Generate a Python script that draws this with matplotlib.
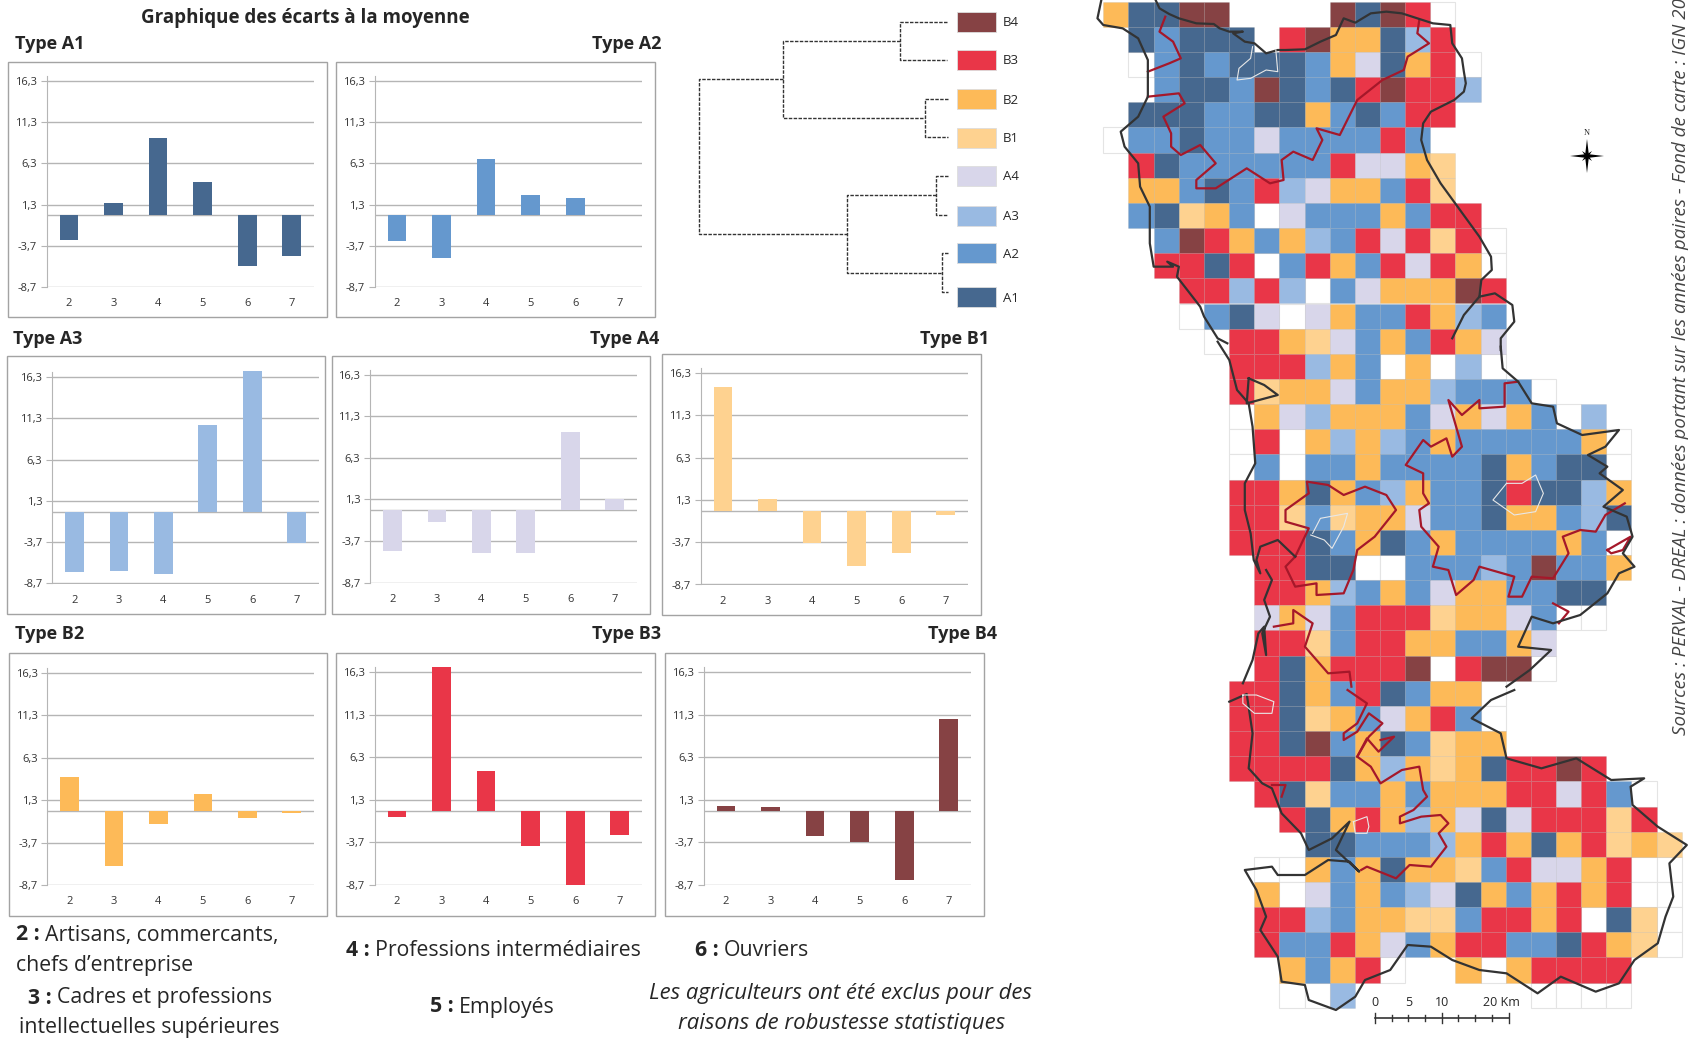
import matplotlib
matplotlib.use('Agg')
import matplotlib.pyplot as plt
from matplotlib.patches import Rectangle

plt.rcParams['font.family'] = ['Open Sans', 'DejaVu Sans']

W, H = 1688, 1038

# categories and bar values of each type
categories = ['2', '3', '4', '5', '6', '7']
y_ticks = [-8.7, -3.7, 1.3, 6.3, 11.3, 16.3]
y_labels = ['-8,7', '-3,7', '1,3', '6,3', '11,3', '16,3']
a1_values = [-3.0, 1.5, 9.4, 4.1, -6.1, -4.9]
a2_values = [-3.1, -5.2, 6.8, 2.5, 2.1, 0.05]
a3_values = [-7.3, -7.2, -7.5, 10.5, 17.0, -3.8]
a4_values = [-4.9, -1.4, -5.1, -5.1, 9.4, 1.3]
b1_values = [14.6, 1.4, -3.8, -6.5, -5.0, -0.5]
b2_values = [4.05, -6.5, -1.5, 2.0, -0.8, -0.2]
b3_values = [-0.7, 16.9, 4.7, -4.1, -8.7, -2.8]
b4_values = [0.6, 0.5, -3.0, -3.7, -8.1, 10.8]

colors = {'A1': '#46688f', 'A2': '#6598ce', 'A3': '#99bae2', 'A4': '#d8d6ea',
          'B1': '#fed290', 'B2': '#fdba58', 'B3': '#e93648', 'B4': '#864244'}

# map cells, one string per row: a-d = A1-A4, e-h = B1-B4, w = no type, . = outside
map_rows = [
    'faahh....hahgw',
    '.abaaa.ghffacg',
    '.wbabaaabfdafgw',
    '..baabhabaghggc',
    '.aaabbaafbabgg',
    'wbbabbdbbbbgb',
    '.gabbbbbbgddfe',
    '.ffbabgcdffbge',
    '.baefbwdbbbfbgg',
    '..bhgfbfcbgdgegw',
    '..ggagwbgfbgdgfw',
    '...ggcgcwbdfffhg',
    '...wbadwdfbbgfcb',
    '....wggfedbfbgfd',
    '.....gggcfbwfwcw',
    '.....geffdbffcbbbw',
    '.....wfdcfffbdfdfbwc',
    '.....wgwfcfcbfbbbbbfw',
    '.....wbwbbfbbbbafbaaw',
    '.....ggfafbcfbbagaacf',
    '.....ggebeffdbbaffbca',
    '.....gggabfabfbbbbfbw',
    '......ggaawwbbbcbhbbf',
    '......ggfcbfbdffbbaa',
    '......dfdbgggeffdbww',
    '......ggebggffbbfd',
    '......gafggghwghhw',
    '.....ggafbgabffw',
    '.....ggaefbdfgbw',
    '.....ggahbfabeff',
    '.....ggggafcfefagghg',
    '......gaebbfbfffggdgbw',
    '.......gafgfcfdadgggeg',
    '........aabbbcfgfafgefe',
    '......wwfbfaffebgddfgww',
    '......fwdbfbcdafbfgfgww',
    '......ggcbffeebggfgwaew',
    '......gbbgfdbfggbbagfew',
    '.......fbfgw..fwfgggg',
    '.......wwc.......wwww',
]
cell_types = {'a': 'A1', 'b': 'A2', 'c': 'A3', 'd': 'A4',
              'e': 'B1', 'f': 'B2', 'g': 'B3', 'h': 'B4'}

coast_top = [(55, 0), (45, 55), (60, 75), (110, 85), (150, 115), (175, 180), (175, 290), (150, 350),
             (105, 395), (115, 440), (150, 490), (155, 560), (180, 620), (180, 730), (190, 800),
             (240, 800), (225, 785), (255, 800), (250, 830), (310, 920), (320, 950), (355, 1015), (380, 1030)]
coast_north = [(195, 0), (205, 25), (230, 42), (255, 55), (300, 70), (345, 72), (360, 85), (385, 95),
               (420, 95), (395, 100), (425, 125), (450, 130), (480, 160), (510, 150), (530, 150),
               (580, 148), (620, 125), (660, 105), (680, 55), (710, 68), (750, 40), (790, 35), (830, 40),
               (870, 55), (910, 70), (955, 75), (960, 130), (985, 175), (990, 215), (995, 250), (990, 275),
               (965, 300), (905, 335), (885, 370), (880, 420), (895, 480), (930, 550), (980, 630),
               (1030, 710), (1060, 770), (1062, 810), (1035, 840), (1030, 890), (990, 945), (960, 1015)]
coast_east_top = [(1030, 890), (1070, 880), (1115, 915), (1120, 965), (1085, 1015), (1085, 1050)]
coast_mid_west = [(355, 5), (385, 60), (405, 150), (435, 190), (445, 260), (452, 370), (425, 430), (425, 510),
                  (440, 580), (448, 660), (465, 700), (455, 660), (465, 620), (510, 600), (555, 650)]
coast_mid_branch = [(435, 115), (430, 190), (510, 165), (475, 135), (435, 115)]
coast_mid_west2 = [(480, 690), (495, 720), (475, 780), (490, 830), (470, 880), (480, 945), (475, 860),
                   (460, 880), (445, 960), (420, 1030)]
coast_mid_east = [(1100, 1040), (1160, 990), (1215, 930), (1130, 920), (1165, 830), (1220, 850), (1290, 825),
                  (1360, 760), (1390, 700), (1430, 680), (1400, 640), (1425, 590), (1410, 530), (1350, 500),
                  (1400, 450), (1340, 400), (1360, 380), (1310, 345), (1355, 320), (1390, 270), (1295, 285),
                  (1230, 250), (1220, 200), (1165, 190), (1130, 125), (1090, 85), (1085, 20)]
coast_south = [(385, 35), (430, 12), (445, 130), (435, 235), (470, 280), (495, 295), (520, 370), (570, 430),
               (590, 480), (650, 445), (695, 395), (660, 480), (720, 545), (695, 515), (640, 510), (580, 555),
               (510, 555), (495, 530), (425, 540), (455, 600), (480, 680), (465, 720), (510, 800), (520, 875),
               (580, 885), (590, 930), (660, 960), (710, 920), (735, 870), (800, 840), (845, 765), (905, 770),
               (960, 810), (1030, 840), (1100, 850), (1180, 910), (1240, 860), (1330, 905), (1390, 880),
               (1430, 810), (1490, 760), (1510, 680), (1530, 620), (1520, 520), (1565, 465), (1490, 410),
               (1425, 345), (1420, 290), (1455, 265), (1370, 270), (1280, 205), (1190, 235), (1100, 205),
               (1085, 130), (1010, 85), (1060, 30), (1120, 0)]

red_top = [(220, 50), (205, 95), (240, 125), (260, 175), (230, 190), (175, 215)]
red_top2 = [(175, 290), (255, 280), (270, 310), (215, 350), (235, 400), (235, 440), (260, 465), (310, 435),
            (350, 490), (300, 540), (300, 565), (350, 565), (430, 505), (490, 550), (525, 540), (520, 480),
            (550, 455), (600, 480), (625, 420), (610, 385), (670, 405), (715, 300), (780, 240), (835, 210),
            (845, 170), (900, 130), (870, 100), (875, 60)]
red_east = [(1130, 125), (1095, 130), (1095, 200), (1030, 205), (1030, 180), (985, 225), (950, 180), (985, 320),
            (960, 350), (945, 295), (905, 320), (885, 300), (840, 375), (885, 400), (885, 460), (900, 490),
            (875, 510), (880, 560), (925, 620), (910, 680), (950, 690), (970, 765), (1015, 720), (1030, 680),
            (1120, 710), (1105, 770), (1140, 770), (1165, 710), (1220, 715), (1260, 640), (1245, 590),
            (1290, 570), (1330, 575), (1355, 525), (1405, 490)]
red_west = [(555, 650), (530, 680), (555, 740), (610, 730), (610, 765), (680, 760), (705, 690), (715, 630),
            (760, 590), (815, 510), (790, 465), (735, 440), (680, 465), (640, 435), (585, 425), (590, 460),
            (530, 510), (530, 545), (590, 565), (555, 650)]
red_small1 = [(1360, 630), (1420, 590), (1400, 630), (1370, 640), (1360, 630)]
red_small2 = [(1220, 790), (1260, 815), (1235, 850)]
red_mid = [(500, 860), (550, 850), (550, 810), (600, 850), (580, 920), (640, 1000), (695, 995), (700, 1040)]
red_south = [(690, 0), (740, 40), (715, 100), (680, 130), (680, 150), (715, 125), (745, 70), (780, 100), (745, 140),
             (715, 200), (750, 230), (775, 280), (830, 240), (875, 230), (885, 300), (895, 320), (860, 360),
             (825, 380), (825, 400), (880, 380), (930, 375), (950, 400), (925, 430), (945, 470), (905, 530),
             (850, 525), (815, 565), (740, 530), (725, 540)]
red_south2 = [(775, 150), (810, 140), (770, 185), (740, 145), (715, 200)]
red_south3 = [(495, 285), (530, 285), (520, 320)]

white_top = [(445, 140), (440, 175), (410, 205), (405, 240), (440, 235), (480, 210), (510, 215), (505, 150)]
white_mid1 = [(1100, 430), (1140, 430), (1175, 405), (1195, 460), (1175, 515), (1120, 525), (1065, 480), (1100, 430)]
white_mid2 = [(600, 580), (620, 535), (690, 520), (680, 560), (650, 625), (630, 600), (595, 585)]
white_south1 = [(420, 15), (455, 15), (500, 35), (495, 70), (450, 70), (420, 40), (420, 15)]
white_south2 = [(705, 395), (740, 380), (745, 410), (740, 430), (710, 430), (705, 395)]

# dendrogram branches, in crop units
dendro_branches = [
    [(800, 65), (660, 65), (660, 180), (800, 180)],
    [(805, 297), (735, 297), (735, 410), (805, 410)],
    [(805, 528), (767, 528), (767, 644), (805, 644)],
    [(805, 760), (787, 760), (787, 876), (805, 876)],
    [(660, 122), (310, 122), (310, 354), (735, 354)],
    [(767, 586), (500, 586), (500, 818), (787, 818)],
    [(310, 238), (58, 238), (58, 702), (500, 702)],
]
legend_order = ['B4', 'B3', 'B2', 'B1', 'A4', 'A3', 'A2', 'A1']
legend_tops = [12, 50, 89, 128, 166, 206, 243, 287]

fig = plt.figure(figsize=(W / 100, H / 100), dpi=100)
canvas = fig.add_axes([0, 0, 1, 1])
canvas.set_xlim(0, W)
canvas.set_ylim(H, 0)
canvas.axis('off')


def add_panel(box, top, bottom, values, color, shift=0):
    # box is the white frame in pixels, top and bottom are where 16,3 and -8,7 sit
    x0, y0, x1, y1 = box
    canvas.add_patch(Rectangle((x0, y0), x1 - x0, y1 - y0, fc='white', ec='#a3a3a3', lw=1))
    left = x0 + 38.7 + shift
    right = x1 - 13 + shift
    scale = (bottom - top) / 25
    ax_top = top - 0.6 * scale
    ax = fig.add_axes([left / W, 1 - bottom / H, (right - left) / W, (bottom - ax_top) / H])
    ax.set_xlim(-0.5, 5.5)
    ax.set_ylim(-8.7, 16.9)
    ax.patch.set_visible(False)
    ax.bar(range(6), values, width=0.42, color=color, clip_on=False, zorder=3)
    ax.set_yticks(y_ticks)
    ax.set_yticklabels(y_labels, fontsize=8, color='#333333')
    ax.set_xticks(range(6))
    ax.set_xticklabels(categories, fontsize=8, color='#333333')
    ax.tick_params(axis='x', length=0, pad=8)
    ax.tick_params(axis='y', length=4, color='#b5b5b5', pad=3)
    ax.grid(axis='y', color='#b5b5b5', lw=1)
    ax.set_axisbelow(True)
    ax.axhline(0, color='#b5b5b5', lw=1, zorder=1)
    for side in ['top', 'right', 'bottom']:
        ax.spines[side].set_visible(False)
    ax.spines['left'].set_color('#b5b5b5')
    return ax


add_panel((8, 62, 327, 317), 81, 287, a1_values, colors['A1'])
add_panel((336, 62, 655, 317), 81, 287, a2_values, colors['A2'])
add_panel((6.5, 356, 325, 614), 377, 583.5, a3_values, colors['A3'], shift=7)
add_panel((331.5, 356, 650, 614), 375, 582.5, a4_values, colors['A4'])
add_panel((662, 354, 981, 615), 373, 584.5, b1_values, colors['B1'])
add_panel((8.6, 653, 327, 916), 673, 885, b2_values, colors['B2'])
add_panel((336, 653, 655, 916), 672, 885, b3_values, colors['B3'])
add_panel((665, 653, 984, 916), 672, 885, b4_values, colors['B4'])

# titles
ink = '#262626'
canvas.text(305, 18, 'Graphique des écarts à la moyenne', fontsize=13.5, fontweight='bold', color=ink,
            ha='center', va='center')
for name, tx, ty in [('Type A1', 15, 44), ('Type A2', 592, 44), ('Type A3', 13, 339), ('Type A4', 590, 339),
                     ('Type B1', 920, 339), ('Type B2', 15, 634), ('Type B3', 592, 634), ('Type B4', 928, 634)]:
    canvas.text(tx, ty, name, fontsize=13, fontweight='bold', color=ink, va='center')

# footnotes
renderer = fig.canvas.get_renderer()


def note(tx, ty, code, label, align='left'):
    # bold code followed by its plain label, measured so the two pieces touch
    size = 15.3
    head = canvas.text(tx, ty, code + ' :', fontsize=size, fontweight='bold', color=ink, va='center')
    tail = canvas.text(tx, ty, label, fontsize=size, color=ink, va='center')
    head_w = head.get_window_extent(renderer).width
    gap = 5
    if align == 'center':
        start = tx - (head_w + gap + tail.get_window_extent(renderer).width) / 2
    else:
        start = tx
    head.set_x(start)
    tail.set_x(start + head_w + gap)


note(16, 935, '2', 'Artisans, commercants,')
canvas.text(16, 965, 'chefs d’entreprise', fontsize=15.3, color=ink, va='center')
note(150, 998, '3', 'Cadres et professions', align='center')
canvas.text(149, 1027, 'intellectuelles supérieures', fontsize=15.3, color=ink, ha='center', va='center')
note(346, 950, '4', 'Professions intermédiaires')
note(430, 1007, '5', 'Employés')
note(695, 950, '6', 'Ouvriers')
canvas.text(840, 994, 'Les agriculteurs ont été exclus pour des', fontsize=15.9, style='italic', color=ink,
            ha='center', va='center')
canvas.text(842, 1024, 'raisons de robustesse statistiques', fontsize=15.9, style='italic', color=ink,
            ha='center', va='center')

# dendrogram and type legend
for branch in dendro_branches:
    canvas.plot([680 + p[0] / 3 for p in branch], [p[1] / 3 for p in branch], color='#333333', lw=1,
                ls=(0, (2.5, 1)))
for name, top in zip(legend_order, legend_tops):
    canvas.add_patch(Rectangle((957, top), 39, 20, fc=colors[name], ec='#dddddd', lw=0.6))
    canvas.text(1003, top + 11, name, fontsize=9.5, color=ink, va='center')

# map grid
cell = 25.15
for r, row in enumerate(map_rows):
    for c, code in enumerate(row):
        if code == 'w':
            canvas.add_patch(Rectangle((1103.3 + c * cell, 1.7 + r * cell), cell, cell, fc='white',
                                       ec='#e4e4e4', lw=0.8))
for r, row in enumerate(map_rows):
    for c, code in enumerate(row):
        if code in cell_types:
            canvas.add_patch(Rectangle((1103.3 + c * cell, 1.7 + r * cell), cell, cell,
                                       fc=colors[cell_types[code]], ec=(0.45, 0.45, 0.45, 0.12), lw=0.6))


def draw_outline(points, y_off, color, lw):
    xs = [1080 + p[0] * 608 / 1568 for p in points]
    ys = [y_off + p[1] / 3 for p in points]
    canvas.plot(xs, ys, color=color, lw=lw, solid_joinstyle='round')


red = '#a5182a'
for pts, off in [(red_top, 0), (red_top2, 0), (red_east, 340), (red_west, 340), (red_small1, 340),
                 (red_small2, 340), (red_mid, 340), (red_south, 690), (red_south2, 690), (red_south3, 690)]:
    draw_outline(pts, off, red, 1.6)
dark = '#333333'
for pts, off in [(coast_top, 0), (coast_north, 0), (coast_east_top, 0), (coast_mid_west, 340),
                 (coast_mid_branch, 340), (coast_mid_west2, 340), (coast_mid_east, 340), (coast_south, 690)]:
    draw_outline(pts, off, dark, 1.6)
for pts, off in [(white_top, 0), (white_mid1, 340), (white_mid2, 340), (white_south1, 690), (white_south2, 690)]:
    draw_outline(pts, off, '#e8e8e8', 0.8)

# compass
cx, cy = 1587, 156
canvas.fill([cx - 2, cx, cx + 2, cx], [cy, cy - 17, cy, cy + 17], color='black', lw=0, zorder=5)
canvas.fill([cx, cx + 17, cx, cx - 17], [cy - 2, cy, cy + 2, cy], color='black', lw=0, zorder=5)
canvas.fill([cx - 5, cx - 1, cx + 5, cx + 1], [cy - 5, cy + 1, cy + 5, cy - 1], color='black', lw=0, zorder=5)
canvas.fill([cx + 5, cx + 1, cx - 5, cx - 1], [cy - 5, cy + 1, cy + 5, cy - 1], color='black', lw=0, zorder=5)
canvas.text(cx, cy - 23, 'N', fontsize=6, family='Liberation Serif', ha='center', va='center', color=ink)

# scale bar
bar_y = 1018
canvas.plot([1375, 1508.5], [bar_y, bar_y], color=dark, lw=1.2)
for k in range(9):
    tick_x = 1375 + k * 133.5 / 8
    half = 5 if k in (0, 4, 8) else 3
    canvas.plot([tick_x, tick_x], [bar_y - half, bar_y + half], color=dark, lw=1)
for label, tx in [('0', 1375), ('5', 1408.5), ('10', 1442)]:
    canvas.text(tx, 1003, label, fontsize=9, color=ink, ha='center', va='center')
canvas.text(1501, 1003, '20 Km', fontsize=9, color=ink, ha='center', va='center')

# source, cut by the edge of the picture like the original
canvas.text(1681, 735, 'Sources : PERVAL - DREAL : données portant sur les années paires - Fond de carte : IGN 20',
            fontsize=13.5, style='italic', color='#444444', rotation=90, ha='center', va='bottom')

canvas.set_xlim(0, W)
canvas.set_ylim(H, 0)
fig.savefig('out.png', dpi=100)
